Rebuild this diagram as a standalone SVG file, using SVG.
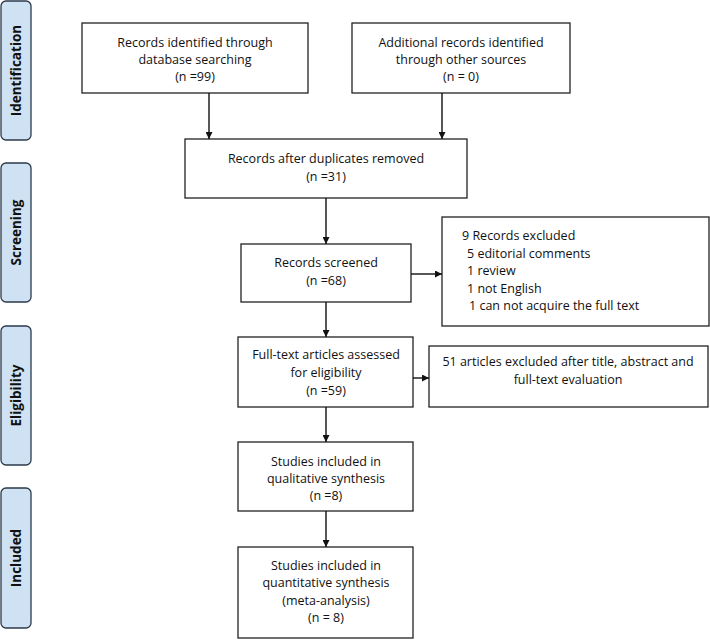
<svg xmlns="http://www.w3.org/2000/svg" width="710" height="640" viewBox="0 0 710 640">
<style>
.box{fill:#fff;stroke:#222;stroke-width:1.3}
.side{fill:#cfe2f3;stroke:#2b3a4a;stroke-width:1.3}
.t{font-family:"Open Sans","Liberation Sans",sans-serif;font-size:12.5px;fill:#111;text-anchor:middle}
.l{font-family:"Open Sans","Liberation Sans",sans-serif;font-size:12.5px;fill:#111}
.s{font-family:"Open Sans","Liberation Sans",sans-serif;font-size:13.5px;font-weight:bold;fill:#111;text-anchor:middle}
.c{stroke:#111;stroke-width:1.4;fill:none;marker-end:url(#ah)}
</style>
<defs>
<marker id="ah" viewBox="0 0 10 10" refX="10" refY="5" markerWidth="7" markerHeight="7" markerUnits="userSpaceOnUse" orient="auto">
<path d="M0,0 L10,5 L0,10 z" fill="#111"/>
</marker>
</defs>
<rect width="710" height="640" fill="#fff"/>
<g id="phase-identification"><rect class="side" x="1" y="1" width="30" height="139" rx="5"/><text class="s" transform="translate(21,70.5) rotate(-90)">Identification</text></g>
<g id="phase-screening"><rect class="side" x="1" y="163" width="30" height="139" rx="5"/><text class="s" transform="translate(21,232.5) rotate(-90)">Screening</text></g>
<g id="phase-eligibility"><rect class="side" x="1" y="326" width="30" height="139" rx="5"/><text class="s" transform="translate(21,395.5) rotate(-90)">Eligibility</text></g>
<g id="phase-included"><rect class="side" x="1" y="488" width="30" height="140" rx="5"/><text class="s" transform="translate(21,558) rotate(-90)">Included</text></g>

<g id="db"><rect class="box" x="82" y="23" width="226" height="70"/>
<text class="t" x="195" y="47">Records identified through</text>
<text class="t" x="195" y="64">database searching</text>
<text class="t" x="195" y="81">(n =99)</text></g>

<g id="other"><rect class="box" x="352" y="23" width="218" height="70"/>
<text class="t" x="461" y="47">Additional records identified</text>
<text class="t" x="461" y="64">through other sources</text>
<text class="t" x="461" y="81">(n = 0)</text></g>

<g id="dedup"><rect class="box" x="185" y="139" width="282" height="59"/>
<text class="t" x="326" y="163">Records after duplicates removed</text>
<text class="t" x="326" y="181">(n =31)</text></g>

<g id="screened"><rect class="box" x="241" y="244" width="170" height="58"/>
<text class="t" x="326" y="267">Records screened</text>
<text class="t" x="326" y="285">(n =68)</text></g>

<g id="excluded"><rect class="box" x="442" y="217" width="267" height="109"/>
<text class="l" x="462" y="240">9 Records excluded</text>
<text class="l" x="467" y="257.5">5 editorial comments</text>
<text class="l" x="467" y="275">1 review</text>
<text class="l" x="467" y="292.5">1 not English</text>
<text class="l" x="469" y="310">1 can not acquire the full text</text></g>

<g id="fulltext"><rect class="box" x="238" y="337" width="175" height="70"/>
<text class="t" x="326" y="359">Full-text articles assessed</text>
<text class="t" x="326" y="377">for eligibility</text>
<text class="t" x="326" y="395">(n =59)</text></g>

<g id="ftexcluded"><rect class="box" x="429" y="346" width="279" height="61"/>
<text class="t" x="568" y="366">51 articles excluded after title, abstract and</text>
<text class="t" x="568" y="384">full-text evaluation</text></g>

<g id="qual"><rect class="box" x="238" y="442" width="175" height="69"/>
<text class="t" x="326" y="466">Studies included in</text>
<text class="t" x="326" y="483">qualitative synthesis</text>
<text class="t" x="326" y="500">(n =8)</text></g>

<g id="quant"><rect class="box" x="238" y="547" width="175" height="91"/>
<text class="t" x="326" y="570">Studies included in</text>
<text class="t" x="326" y="587">quantitative synthesis</text>
<text class="t" x="326" y="605">(meta-analysis)</text>
<text class="t" x="326" y="622">(n = 8)</text></g>

<g id="connectors">
<line class="c" x1="209" y1="93" x2="209" y2="139"/>
<line class="c" x1="442" y1="93" x2="442" y2="139"/>
<line class="c" x1="326" y1="198" x2="326" y2="244"/>
<line class="c" x1="411" y1="274" x2="442" y2="274"/>
<line class="c" x1="326" y1="302" x2="326" y2="337"/>
<line class="c" x1="413" y1="378" x2="429" y2="378"/>
<line class="c" x1="326" y1="407" x2="326" y2="442"/>
<line class="c" x1="326" y1="511" x2="326" y2="547"/>
</g>
</svg>
